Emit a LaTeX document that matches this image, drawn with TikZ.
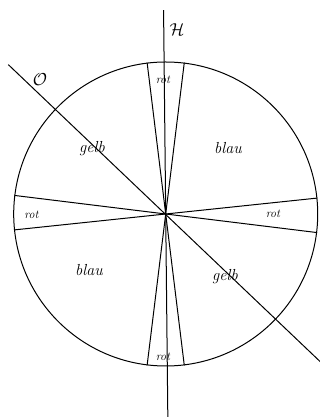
\documentclass[tikz,border=0pt]{standalone}
\begin{document}
\begin{tikzpicture}[
    x=1pt, y=1pt,
    line width=1pt,
    disc/.style={circle,draw,minimum size=304pt,inner sep=0pt},
    colour/.style={font=\fontsize{16}{16}\selectfont\itshape},
    small/.style={font=\fontsize{12}{12}\selectfont\itshape,inner sep=0pt},
    axislabel/.style={font=\fontsize{17}{17}\selectfont}
]
\useasboundingbox (0,0) rectangle (320,417);

\coordinate (c) at (165.7,203);
\node[disc] (wheel) at (c) {};

% axes through the centre
\path (c) ++(90.6:204) coordinate (htop);
\path (c) ++(270.6:204) coordinate (hbot);
\path (c) ++(136.5:217) coordinate (otop);
\path (c) ++(316.3:214) coordinate (obot);
\draw (htop) -- (hbot);
\draw (otop) -- (obot);

% the four narrow sectors
\foreach \a in {97.7,83.8,263.6,277.4,173.7,186.1,6.8,-7.1}
    \draw (c) -- (wheel.\a);

\node[axislabel] (h) at (177,387) {$\mathcal{H}$};
\node[axislabel] (o) at (40,337) {$\mathcal{O}$};

\node[small] (rtop) at (163,337) {rot};
\node[small] (rbot) at (163,60) {rot};
\node[small] (rleft) at (31.5,202) {rot};
\node[small] (rright) at (273,203) {rot};

\node[colour] (blau1) at (228,269) {blau};
\node[colour] (gelb1) at (92,268) {gelb};
\node[colour] (blau2) at (89,147) {blau};
\node[colour] (gelb2) at (225,140) {gelb};

\end{tikzpicture}
\end{document}
